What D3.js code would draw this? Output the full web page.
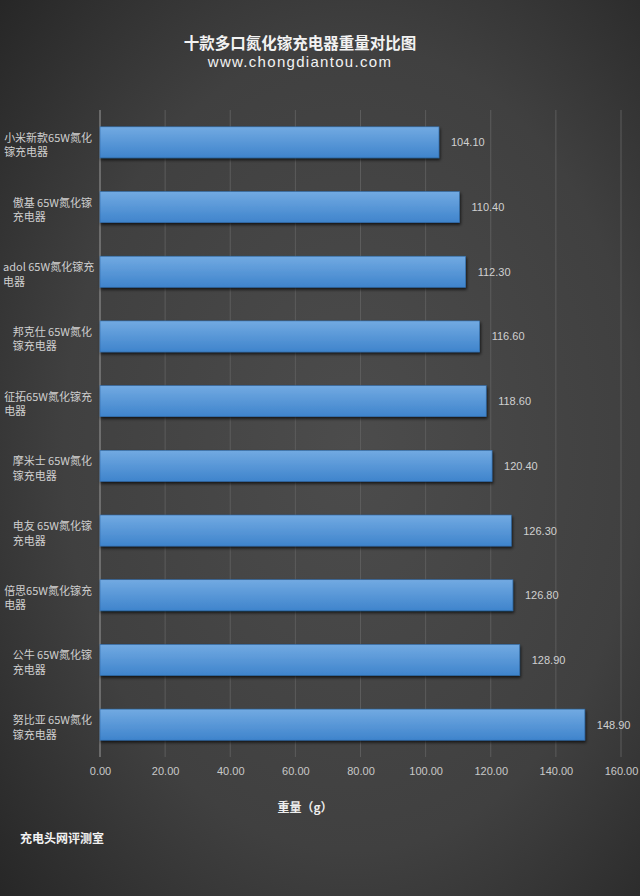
<!DOCTYPE html>
<html><head><meta charset="utf-8">
<script src="https://cdn.jsdelivr.net/npm/d3@7"></script>
<style>html,body{margin:0;padding:0;background:#333;}svg{display:block;}</style>
</head><body>
<script>
const categories = ["小米新款65W氮化镓充电器","傲基 65W氮化镓充电器","adol 65W氮化镓充电器","邦克仕 65W氮化镓充电器","征拓65W氮化镓充电器","摩米士 65W氮化镓充电器","电友 65W氮化镓充电器","倍思65W氮化镓充电器","公牛 65W氮化镓充电器","努比亚 65W氮化镓充电器"];
const labelLines = [["小米新款65W氮化","镓充电器"],["傲基 65W氮化镓","充电器"],["adol 65W氮化镓充","电器"],["邦克仕 65W氮化","镓充电器"],["征拓65W氮化镓充","电器"],["摩米士 65W氮化","镓充电器"],["电友 65W氮化镓","充电器"],["倍思65W氮化镓充","电器"],["公牛 65W氮化镓","充电器"],["努比亚 65W氮化","镓充电器"]];
const values = [104.10,110.40,112.30,116.60,118.60,120.40,126.30,126.80,128.90,148.90];
const ticks = [0,20,40,60,80,100,120,140,160];
const title = "十款多口氮化镓充电器重量对比图";
const subtitle = "www.chongdiantou.com";
const axisTitle = "重量（g）";
const footer = "充电头网评测室";

const W=640,H=896;
const svg=d3.select("body").append("svg").attr("width",W).attr("height",H);
const defs=svg.append("defs");
const rg=defs.append("radialGradient").attr("id","bg").attr("cx","0.55").attr("cy","0.5").attr("r","0.75");
rg.append("stop").attr("offset","0").attr("stop-color","#4c4c4c");
rg.append("stop").attr("offset","0.6").attr("stop-color","#404040");
rg.append("stop").attr("offset","1").attr("stop-color","#262626");
const bgr=defs.append("linearGradient").attr("id","bar").attr("x1",0).attr("y1",0).attr("x2",0).attr("y2",1);
bgr.append("stop").attr("offset","0").attr("stop-color","#72aae2");
bgr.append("stop").attr("offset","1").attr("stop-color","#3f84cc");
const sh=defs.append("filter").attr("id","sh").attr("x","-5%").attr("y","-20%").attr("width","110%").attr("height","160%");
sh.append("feDropShadow").attr("dx",1).attr("dy",2).attr("stdDeviation",1.5).attr("flood-color","#000").attr("flood-opacity",0.7);

svg.append("rect").attr("width",W).attr("height",H).attr("fill","url(#bg)");

const x=d3.scaleLinear().domain([0,160]).range([100,621]);
const y=d3.scaleBand().domain(categories).range([110,757]).paddingInner(0.52).paddingOuter(0.26);

svg.append("g").selectAll("line").data(ticks).join("line")
 .attr("x1",d=>x(d)).attr("x2",d=>x(d)).attr("y1",110).attr("y2",757)
 .attr("stroke",d=>d===0?"#9a9a9a":"#5c5c5c").attr("stroke-width",1);

const ax=svg.append("g").attr("transform","translate(0,757)")
 .call(d3.axisBottom(x).tickValues(ticks).tickFormat(d3.format(".2f")).tickSize(0).tickPadding(10));
ax.select(".domain").remove();
ax.selectAll("text").attr("fill","#c8c8c8").style("font-family","'Liberation Sans',Arial,sans-serif").style("font-size","11px");

svg.append("g").selectAll("rect").data(values).join("rect")
 .attr("x",x(0)).attr("y",(d,i)=>y(categories[i]))
 .attr("width",d=>x(d)-x(0)).attr("height",y.bandwidth())
 .attr("fill","url(#bar)").attr("stroke","#2f6aa8").attr("stroke-width",0.6).attr("filter","url(#sh)");

svg.append("g").selectAll("text").data(values).join("text")
 .attr("x",d=>x(d)+12).attr("y",(d,i)=>y(categories[i])+y.bandwidth()/2+4)
 .text(d=>d.toFixed(2)).attr("fill","#d0d0d0")
 .style("font-family","'Liberation Sans',Arial,sans-serif").style("font-size","11px");

const lg=svg.append("g");
labelLines.forEach((lines,i)=>{
  const cy=y(categories[i])+y.bandwidth()/2;
  const t=lg.append("text").attr("fill","#cfcfcf").style("font-family","'Noto Sans CJK SC',sans-serif").style("font-size","11px");
  lines.forEach((l,j)=>{
    t.append("tspan").attr("x",0).attr("y",cy-0.5+j*14.5).text(l);
  });
  const bb=t.node().getBBox();
  t.attr("transform",`translate(${Math.max(3,92-bb.width)},0)`);
});

svg.append("text").attr("x",300).attr("y",49).attr("text-anchor","middle").text(title)
 .attr("fill","#f2f2f2").style("font-family","'Noto Sans CJK SC',sans-serif").style("font-size","15.5px").style("font-weight","bold");
svg.append("text").attr("x",300).attr("y",67).attr("text-anchor","middle").text(subtitle)
 .attr("fill","#f2f2f2").style("font-family","'Liberation Sans',Arial,sans-serif").style("font-size","15px").style("letter-spacing","1.3px");
svg.append("text").attr("x",305).attr("y",812).attr("text-anchor","middle").text(axisTitle)
 .attr("fill","#eeeeee").style("font-family","'Noto Sans CJK SC',sans-serif").style("font-size","12px").style("font-weight","bold");
svg.append("text").attr("x",20).attr("y",843).text(footer)
 .attr("fill","#f2f2f2").style("font-family","'Noto Sans CJK SC',sans-serif").style("font-size","12px").style("font-weight","bold");
</script>
</body></html>
